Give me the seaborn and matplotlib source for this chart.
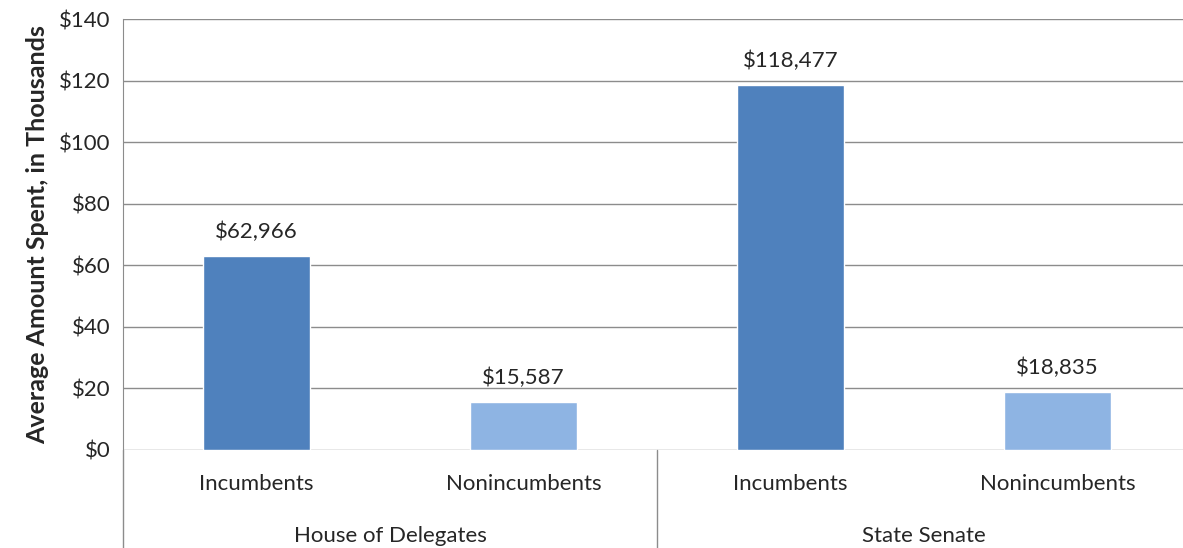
import pandas as pd
import matplotlib.pyplot as plt
import matplotlib.transforms as mtransforms
import seaborn as sns

# chart values (average spent, in thousands of dollars)
chambers = ["House of Delegates", "House of Delegates", "State Senate", "State Senate"]
statuses = ["Incumbents", "Nonincumbents", "Incumbents", "Nonincumbents"]
amounts = [62.966, 15.587, 118.477, 18.835]
amount_labels = ["$62,966", "$15,587", "$118,477", "$18,835"]
yticks = [0, 20, 40, 60, 80, 100, 120, 140]
colors = {"Incumbents": "#4F81BD", "Nonincumbents": "#8EB4E3"}

df = pd.DataFrame({"chamber": chambers, "status": statuses, "amount": amounts})
df["slot"] = df["chamber"] + " | " + df["status"]

sns.set_style("white")
plt.rcParams["font.family"] = ["Lato", "DejaVu Sans"]

fig = plt.figure(figsize=(11.83, 5.48), dpi=100)
ax = fig.add_axes([123 / 1183, 1 - 450 / 548, 1068 / 1183, 431 / 548])

sns.barplot(data=df, x="slot", y="amount", hue="status", palette=colors,
            dodge=False, width=0.4, legend=False, ax=ax, saturation=1)

ax.set_xlim(-0.5, 3.5)
ax.set_ylim(0, 140)
ax.set_yticks(yticks)
ax.set_yticklabels(["$" + str(t) for t in yticks], fontsize=16)
ax.yaxis.grid(True, color="#8C8C8C", linewidth=1)
ax.set_axisbelow(True)
ax.tick_params(axis="both", length=0)
ax.tick_params(axis="y", pad=9)
ax.set_xticks(range(len(statuses)))
ax.set_xticklabels(statuses, fontsize=16)
ax.tick_params(axis="x", pad=17)
ax.set_xlabel("")
ax.set_ylabel("Average Amount Spent, in Thousands", fontsize=18, fontweight="bold", labelpad=7)

for s in ["top", "right", "bottom"]:
    ax.spines[s].set_visible(False)
ax.spines["left"].set_color("#8C8C8C")

# value labels above bars
for i, (v, lab) in enumerate(zip(amounts, amount_labels)):
    ax.annotate(lab, (i, v), xytext=(0, 10), textcoords="offset points",
                ha="center", va="bottom", fontsize=16)

# grouped category axis
trans = mtransforms.blended_transform_factory(ax.transData, ax.transAxes)
ax.plot([-0.5, -0.5], [0, -0.3], color="#8C8C8C", lw=1, transform=trans, clip_on=False)
ax.plot([1.5, 1.5], [0, -0.3], color="#8C8C8C", lw=1, transform=trans, clip_on=False)
for k, name in enumerate(["House of Delegates", "State Senate"]):
    ax.text(2 * k + 0.5, -0.2, name, transform=trans, ha="center", va="center", fontsize=16)

plt.savefig("out.png", dpi=100)
